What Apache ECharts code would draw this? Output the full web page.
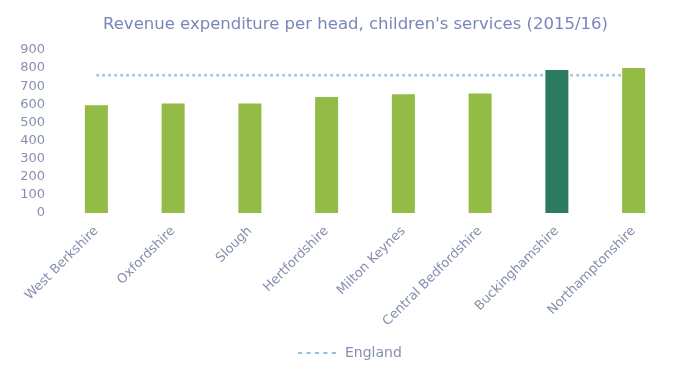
<!DOCTYPE html>
<html>
<head>
<meta charset="utf-8">
<script src="https://cdn.jsdelivr.net/npm/echarts@6/dist/echarts.min.js"></script>
<style>
html, body { margin: 0; padding: 0; background: #ffffff; }
#chart { width: 674px; height: 376px; }
</style>
</head>
<body>
<div id="chart"></div>
<script>
// Revenue expenditure per head on children's services, 2015/16
const authorities = ['West Berkshire', 'Oxfordshire', 'Slough', 'Hertfordshire', 'Milton Keynes', 'Central Bedfordshire', 'Buckinghamshire', 'Northamptonshire'];
const spendPerHead = [595, 605, 605, 640, 655, 660, 790, 800];
const englandAverage = [760, 760, 760, 760, 760, 760, 760, 760];
const highlighted = 'Buckinghamshire';

const textColor = '#8690ad';
const fontFamily = '"DejaVu Sans", sans-serif';

const chart = echarts.init(document.getElementById('chart'));
chart.setOption({
  animation: false,
  title: {
    text: "Revenue expenditure per head, children's services (2015/16)",
    left: 98,
    top: 11,
    textStyle: { color: '#7b85b8', fontSize: 16.5, fontWeight: 'normal', fontFamily: fontFamily }
  },
  legend: {
    bottom: 11,
    left: 293,
    itemWidth: 38,
    itemHeight: 10,
    itemGap: 10,
    data: [{ name: 'England', icon: 'path://M0,4h4v2h-4z M8,4h4v2h-4z M16,4h4v2h-4z M24,4h4v2h-4z M32,4h4v2h-4z' }],
    itemStyle: { color: '#8cc4e0' },
    textStyle: { color: textColor, fontSize: 14, fontFamily: fontFamily, padding: [0, 0, 0, 4] }
  },
  grid: { left: 58, right: 2, top: 50, bottom: 163, containLabel: false },
  xAxis: {
    type: 'category',
    data: authorities,
    axisLine: { show: false },
    axisTick: { show: false },
    axisLabel: { rotate: 45, color: textColor, fontSize: 13, margin: 16, fontFamily: fontFamily, interval: 0 }
  },
  yAxis: {
    type: 'value',
    min: 0,
    max: 900,
    interval: 100,
    axisLine: { show: false },
    axisTick: { show: false },
    splitLine: { show: false },
    axisLabel: { color: textColor, fontSize: 13, margin: 13, fontFamily: fontFamily }
  },
  series: [
    {
      name: 'England',
      type: 'line',
      data: englandAverage,
      symbol: 'none',
      z: 1,
      lineStyle: { color: '#8cc4e0', width: 2.5, type: [2.5, 3.5] },
      itemStyle: { color: '#8cc4e0' }
    },
    {
      name: 'Spend per head',
      type: 'bar',
      barWidth: 23,
      z: 2,
      data: spendPerHead.map((v, i) => ({
        value: v,
        itemStyle: { color: authorities[i] === highlighted ? '#2c7a5f' : '#93bb45' }
      }))
    }
  ]
});
</script>
</body>
</html>
